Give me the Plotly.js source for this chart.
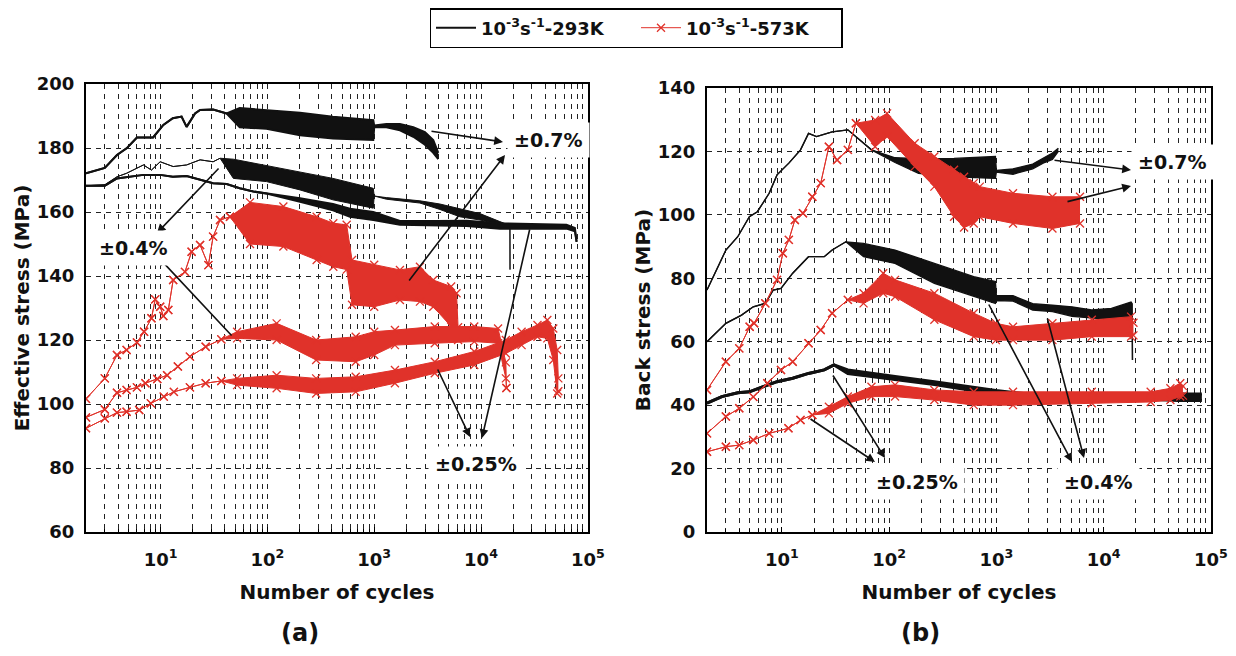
<!DOCTYPE html>
<html>
<head>
<meta charset="utf-8">
<script src="https://cdn.plot.ly/plotly-3.0.1.min.js"></script>
<style>html,body{margin:0;padding:0;background:#fff;}#chart{width:1236px;height:656px;}</style>
</head>
<body>
<div id="chart"></div>
<script>
// ---------------- DATA ----------------
// Legend labels
const legendNames = ['10<sup>-3</sup>s<sup>-1</sup>-293K', '10<sup>-3</sup>s<sup>-1</sup>-573K'];
const xTickVals = [10, 100, 1000, 10000, 100000];
const xTickText = ['10<sup>1</sup>', '10<sup>2</sup>', '10<sup>3</sup>', '10<sup>4</sup>', '10<sup>5</sup>'];
const strainLabels = ['±0.7%', '±0.4%', '±0.25%'];

// (a) Effective stress, 293 K, ±0.7%  (hi/lo = envelope of the oscillating band)
const effN_293_07  = [2, 3, 3.9, 4.8, 6, 8.5, 10.6, 13, 15.7, 17.5, 21, 23.4, 31, 41.5, 55, 98, 202, 411, 980, 1000, 1300, 1741, 2323, 2985, 3572, 3980];
const effHi_293_07 = [172.1, 173.8, 177.8, 179.9, 183.3, 183.3, 187.2, 189.3, 189.8, 186.6, 190.8, 191.9, 192, 190.8, 192.5, 191.9, 191, 189.8, 188.7, 187, 187.5, 187.5, 186.5, 185, 182.5, 178.5];
const effLo_293_07 = [172.1, 173.8, 177.8, 179.9, 183.3, 183.3, 187.2, 189.3, 189.8, 186.6, 190.8, 191.9, 192, 190.8, 186.5, 186, 184, 183, 182.5, 186.5, 186.5, 185.5, 183.5, 181, 178.5, 176.5];
// (a) Effective stress, 293 K, ±0.4%
const effN_293_04  = [2, 3, 3.9, 4.8, 6.9, 8.2, 9.9, 13.1, 17.5, 23.4, 31, 36, 48, 98, 202, 411, 980, 1000, 1300, 2679, 4120, 6350, 9780, 15030, 18660, 18700];
const effHi_293_04 = [168.2, 168.5, 171, 172.1, 174.7, 173.1, 175.7, 174.2, 174.7, 176.3, 175.7, 176.8, 176.5, 174.5, 172.6, 170.5, 167.4, 165, 164.5, 163.5, 162.5, 161, 159.5, 157, 155.8, 142];
const effLo_293_04 = [168.2, 168.5, 171, 172.1, 174.7, 173.1, 175.7, 174.2, 174.7, 176.3, 175.7, 176.8, 170.5, 169.5, 166.9, 163.8, 161.2, 165, 164, 162.8, 160.8, 158.5, 157.5, 156, 155.4, 142];
// (a) Effective stress, 293 K, ±0.25%
const effN_293_025  = [2, 3, 3.9, 6.9, 9.9, 13, 17.5, 23.4, 31, 41.5, 55, 73.8, 98, 202, 411, 593, 980, 1741, 3572, 7330, 15030, 30800, 63100, 75700, 78600];
const effHi_293_025 = [168.2, 168.2, 170.5, 171.6, 171.6, 171, 171.25, 170, 169, 168.75, 167.4, 166.4, 165.8, 164.3, 162.5, 161, 160, 157.2, 157.2, 157.3, 156.5, 156.2, 156, 155, 150.7];
const effLo_293_025 = [168.2, 168.2, 170.5, 171.6, 171.6, 171, 171.25, 170, 169, 168.75, 167.4, 166.4, 165.8, 163.2, 160.5, 158.5, 157.5, 156, 155.8, 155.6, 154.8, 154.8, 154.8, 154, 150.7];
// (a) Effective stress, 573 K, ±0.7%
const effN_573_07  = [2, 3, 3.9, 4.8, 6, 7, 8.2, 8.9, 9.9, 10.6, 11.8, 13.1, 16.9, 19.5, 23.4, 28, 31, 36, 44.6, 68.7, 141, 289, 414, 552, 620, 1000, 1741, 2680, 3572, 5250, 5900, 6100];
const effHi_573_07 = [101.6, 108, 115.3, 116.9, 119.2, 122.6, 126.8, 132.7, 130.4, 127.5, 129.4, 138.75, 141.3, 147.6, 149.7, 143.4, 152.3, 157.5, 158.5, 163, 161.7, 158.5, 156.5, 156, 145, 143.5, 141.9, 142.9, 138.75, 136.7, 134.6, 124];
const effLo_573_07 = [101.6, 108, 115.3, 116.9, 119.2, 122.6, 126.8, 132.7, 130.4, 127.5, 129.4, 138.75, 141.3, 147.6, 149.7, 143.4, 152.3, 157.5, 158.5, 150, 149.2, 145, 142.9, 142, 131, 130.4, 132.5, 132, 130.4, 124.2, 121, 120];
// (a) Effective stress, 573 K, ±0.4%
const effN_573_04  = [2, 3, 3.9, 4.8, 6, 7.2, 9.3, 11.5, 14.5, 18.8, 26.4, 37, 52, 122, 286, 671, 1000, 1563, 3690, 8650, 14450, 17100, 17300];
const effHi_573_04 = [95.8, 98.3, 103.5, 104.4, 105.2, 106.5, 107.8, 109, 111.7, 114.8, 117.9, 120.2, 122.6, 125.2, 120, 121, 122.6, 123.1, 124.2, 124.2, 123.6, 113, 105];
const effLo_573_04 = [95.8, 98.3, 103.5, 104.4, 105.2, 106.5, 107.8, 109, 111.7, 114.8, 117.9, 120.2, 120.5, 120, 113.75, 113.2, 115.3, 118.4, 119, 119.5, 119, 108, 105];
// (a) Effective stress, 573 K, ±0.25%
const effN_573_025  = [2, 3, 3.9, 4.8, 6.3, 8.1, 10.7, 13.3, 18.8, 26.4, 37, 52, 122, 286, 671, 1563, 3690, 8650, 17100, 24000, 33800, 41800, 47500, 51700, 53000];
const effHi_573_025 = [92.4, 95.5, 97.3, 97.6, 98.1, 100.2, 102.3, 103.8, 105.2, 106.5, 107.2, 108, 109, 108, 108.5, 110.6, 113.2, 116.4, 120, 122.6, 124.7, 126.25, 123.6, 116.9, 108];
const effLo_573_025 = [92.4, 95.5, 97.3, 97.6, 98.1, 100.2, 102.3, 103.8, 105.2, 106.5, 107.2, 105.9, 104.9, 103.3, 103.8, 106.5, 109.6, 112.2, 115.8, 118.4, 121, 120.5, 113.75, 103.3, 104];

// (b) Back stress, 293 K, ±0.7%
const bkN_293_07  = [2, 3, 3.87, 4.97, 5.9, 7.6, 9, 11.6, 14.9, 17.7, 21, 29.4, 41.2, 68.4, 113.5, 188, 403, 980, 1000, 1430, 2183, 2812, 3334, 3785];
const bkHi_293_07 = [76.3, 88.9, 93.1, 99.4, 101, 106.8, 112.6, 116.3, 120.5, 125.7, 124.7, 126.2, 126.8, 120.5, 118, 117.7, 117.8, 118.4, 114, 114.5, 116, 118, 119.5, 121];
const bkLo_293_07 = [76.3, 88.9, 93.1, 99.4, 101, 106.8, 112.6, 116.3, 120.5, 125.7, 124.7, 126.2, 126.8, 120.5, 116.5, 113.1, 112, 111.5, 113.5, 112.8, 114.5, 116.5, 117.5, 120];
// (b) Back stress, 293 K, ±0.4%
const bkN_293_04  = [2, 3, 4.2, 5.4, 7, 8.3, 9.8, 12.6, 17.7, 24.8, 29.4, 39.5, 57.7, 113.5, 264, 615, 980, 1000, 1430, 2183, 3334, 5080, 7760, 11830, 18050, 18500, 18600];
const bkHi_293_04 = [60, 65.8, 68.4, 71, 72.1, 76.3, 76.8, 81.6, 86.8, 86.8, 88.9, 91.5, 91, 88.9, 84.7, 80.5, 79, 74.5, 74.5, 72, 71.5, 71, 70, 70.5, 72.5, 72, 54.2];
const bkLo_293_04 = [60, 65.8, 68.4, 71, 72.1, 76.3, 76.8, 81.6, 86.8, 86.8, 88.9, 91.5, 86.8, 84.7, 78.4, 74.2, 72.1, 73, 72.8, 70, 69.5, 68, 67.5, 67, 67.5, 67, 54.2];
// (b) Back stress, 293 K, ±0.25%
const bkN_293_025  = [2, 2.75, 3.87, 4.97, 6.4, 9, 12.6, 17.7, 24.8, 30.6, 41.2, 68.4, 113.5, 264, 615, 990, 2000, 5000, 10000, 20000, 49800, 82600];
const bkHi_293_025 = [40.6, 42.7, 43.9, 44.2, 45.6, 47.4, 48.5, 50, 51.1, 52.7, 51.1, 50, 49, 47.4, 45.6, 44.6, 43.5, 43, 43, 43, 43.5, 43.5];
const bkLo_293_025 = [40.6, 42.7, 43.9, 44.2, 45.6, 47.4, 48.5, 50, 51.1, 52.7, 50, 49, 48, 46.5, 44.5, 43.5, 42.5, 42, 42, 42, 41.5, 41.5];
// (b) Back stress, 573 K, ±0.7%
const bkN_573_07  = [2, 3, 4, 5, 5.5, 7, 9, 10.2, 11.6, 13.2, 15.7, 19.2, 23, 27.4, 32.7, 41.2, 49, 74, 95.7, 173, 264, 403, 500, 615, 700, 1430, 3334, 6030];
const bkHi_573_07 = [44.8, 53.7, 57.9, 64.7, 65.8, 72.1, 79.5, 87.9, 92.1, 98.4, 100.5, 105.7, 110, 121.5, 117.3, 120.5, 128.9, 129.9, 132, 122.6, 118.4, 114.2, 112, 110, 108.9, 106.8, 105.7, 105.7];
const bkLo_573_07 = [44.8, 53.7, 57.9, 64.7, 65.8, 72.1, 79.5, 87.9, 92.1, 98.4, 100.5, 105.7, 110, 121.5, 117.3, 120.5, 128.9, 121.5, 124.7, 115.2, 108.9, 99.4, 96, 97.3, 99.4, 97.3, 95.7, 97.3];
// (b) Back stress, 573 K, ±0.4%
const bkN_573_04  = [2, 3, 4, 5.4, 7.3, 9.8, 12.6, 17.7, 23, 29.4, 41.2, 57.7, 88, 113.5, 264, 615, 990, 1430, 3334, 7760, 18050, 19000];
const bkHi_573_04 = [31.1, 36.4, 39, 42.6, 46.9, 51.1, 53.7, 59.5, 63.7, 69, 73.2, 75.3, 81.6, 79.5, 75.3, 69, 65.8, 64.7, 65.8, 66.9, 67.9, 66];
const bkLo_573_04 = [31.1, 36.4, 39, 42.6, 46.9, 51.1, 53.7, 59.5, 63.7, 69, 73.2, 72.1, 75.3, 74.2, 66.9, 61.6, 60.5, 60.5, 60.5, 61.6, 61.6, 62];
// (b) Back stress, 573 K, ±0.25%
const bkN_573_025  = [2, 3, 4, 5.4, 7.6, 11.5, 14.9, 19.2, 27.4, 41.2, 68.4, 113.5, 264, 615, 1430, 7760, 27500, 42000, 51900, 55000];
const bkHi_573_025 = [25.3, 26.9, 27.4, 29, 31.1, 32.7, 35.3, 36.9, 39.5, 42.7, 45.8, 46.4, 44.8, 44.2, 44.2, 44.2, 44.2, 45.3, 46.9, 46];
const bkLo_573_025 = [25.3, 26.9, 27.4, 29, 31.1, 32.7, 35.3, 36.9, 37.4, 40.6, 42.7, 42.7, 41.6, 40, 40, 40.6, 41, 41.6, 42.7, 43];

// ---------------- STYLE ----------------
const BLACK = '#111111';
const RED = '#e0322a';
const FONT = 'DejaVu Sans, Liberation Sans, Arial, sans-serif';
const W = 1236, H = 656;

function band(N, hi, lo, color, width, withMarkers, xa, ya, legendName) {
  const mode = withMarkers ? 'lines+markers' : 'lines';
  const marker = {symbol: 'x-thin', size: 8, color: color, line: {width: 1.3, color: color}};
  return [
    {x: N, y: hi, xaxis: xa, yaxis: ya, mode: mode, type: 'scatter',
     line: {color: color, width: width}, marker: marker,
     name: legendName || '', showlegend: !!legendName, hoverinfo: 'skip'},
    {x: N, y: lo, xaxis: xa, yaxis: ya, mode: mode, type: 'scatter',
     line: {color: color, width: width}, marker: marker,
     fill: 'tonexty', fillcolor: color, showlegend: false, hoverinfo: 'skip'}
  ];
}

const traces = [].concat(
  band(effN_293_07, effHi_293_07, effLo_293_07, BLACK, 2, false, 'x', 'y', legendNames[0]),
  band(effN_293_04, effHi_293_04, effLo_293_04, BLACK, 1, false, 'x', 'y'),
  band(effN_293_025, effHi_293_025, effLo_293_025, BLACK, 2, false, 'x', 'y'),
  band(bkN_293_07, bkHi_293_07, bkLo_293_07, BLACK, 1.3, false, 'x2', 'y2'),
  band(bkN_293_04, bkHi_293_04, bkLo_293_04, BLACK, 1.3, false, 'x2', 'y2'),
  band(bkN_293_025, bkHi_293_025, bkLo_293_025, BLACK, 3, false, 'x2', 'y2'),
  band(effN_573_07, effHi_573_07, effLo_573_07, RED, 1, true, 'x', 'y', legendNames[1]),
  band(effN_573_04, effHi_573_04, effLo_573_04, RED, 1, true, 'x', 'y'),
  band(effN_573_025, effHi_573_025, effLo_573_025, RED, 1, true, 'x', 'y'),
  band(bkN_573_07, bkHi_573_07, bkLo_573_07, RED, 1, true, 'x2', 'y2'),
  band(bkN_573_04, bkHi_573_04, bkLo_573_04, RED, 1, true, 'x2', 'y2'),
  band(bkN_573_025, bkHi_573_025, bkLo_573_025, RED, 1, true, 'x2', 'y2')
);

const gridStyle = {gridcolor: '#222', griddash: '5px,5px', gridwidth: 1};
function xAxis(domain, anchor) {
  return Object.assign({
    type: 'log', domain: domain, anchor: anchor, range: [Math.log10(2), 5.002],
    tickvals: xTickVals, ticktext: xTickText, showgrid: true,
    ticks: 'inside', ticklen: 5, tickcolor: '#000', ticklabelstandoff: 10,
    minor: Object.assign({dtick: 'D1', showgrid: true, ticks: 'inside', ticklen: 3, tickcolor: '#000'}, gridStyle),
    showline: true, mirror: true, linecolor: '#000', linewidth: 2, zeroline: false,
    tickfont: {family: FONT, size: 18, weight: 'bold', color: '#111'},
    title: {text: 'Number of cycles', font: {family: FONT, size: 20, weight: 'bold', color: '#111'}, standoff: 16}
  }, gridStyle);
}
function yAxis(domain, anchor, range, title) {
  return Object.assign({
    domain: domain, anchor: anchor, range: range, dtick: 20, showgrid: true,
    showline: true, mirror: true, linecolor: '#000', linewidth: 2, zeroline: false,
    ticks: '', ticklabelstandoff: 6,
    tickfont: {family: FONT, size: 18, weight: 'bold', color: '#111'},
    title: {text: title, font: {family: FONT, size: 20, weight: 'bold', color: '#111'}, standoff: 2}
  }, gridStyle);
}

function arrow(hx, hy, tx, ty) {
  return {xref: 'paper', yref: 'paper', x: hx / W, y: 1 - hy / H, ax: tx - hx, ay: ty - hy,
          axref: 'pixel', ayref: 'pixel', text: '', showarrow: true,
          arrowhead: 2, arrowsize: 1.1, arrowwidth: 1.6, arrowcolor: '#111', standoff: 0, startstandoff: 0};
}
function label(text, cx, cy, size) {
  return {xref: 'paper', yref: 'paper', x: cx / W, y: 1 - cy / H, xanchor: 'center', yanchor: 'middle',
          text: text, showarrow: false, bgcolor: '#fff', borderpad: 6,
          font: {family: FONT, size: size || 19, weight: 'bold', color: '#111'}};
}

const annotations = [
  arrow(503, 142, 430, 131), arrow(505, 155, 408, 282),
  arrow(157, 233, 220, 167), arrow(158, 257, 233, 337),
  arrow(470, 437, 437, 368), arrow(482, 438, 530, 228),
  arrow(1131, 170, 1053, 160), arrow(1131, 186, 1066, 202),
  arrow(875, 462, 809, 418), arrow(885, 458, 832, 374),
  arrow(1072, 462, 988, 303), arrow(1084, 458, 1047, 317),
  label(strainLabels[0], 548, 140), label(strainLabels[1], 133, 248), label(strainLabels[2], 476, 464),
  label(strainLabels[0], 1172, 162), label(strainLabels[2], 917, 482), label(strainLabels[1], 1098, 482),
  {xref: 'paper', yref: 'paper', x: 300 / W, y: 1 - 633 / H, xanchor: 'center', yanchor: 'middle', text: '(a)', showarrow: false,
   font: {family: FONT, size: 24, weight: 'bold', color: '#111'}},
  {xref: 'paper', yref: 'paper', x: 920 / W, y: 1 - 633 / H, xanchor: 'center', yanchor: 'middle', text: '(b)', showarrow: false,
   font: {family: FONT, size: 24, weight: 'bold', color: '#111'}}
];

const layout = {
  width: W, height: H,
  margin: {l: 0, r: 0, t: 0, b: 0, autoexpand: false},
  paper_bgcolor: '#fff', plot_bgcolor: '#fff',
  xaxis: xAxis([86 / W, 588 / W], 'y'),
  yaxis: yAxis([1 - 532 / H, 1 - 84 / H], 'x', [60, 200], 'Effective stress (MPa)'),
  xaxis2: xAxis([707 / W, 1211 / W], 'y2'),
  yaxis2: yAxis([1 - 532 / H, 1 - 88 / H], 'x2', [0, 140], 'Back stress (MPa)'),
  showlegend: true,
  legend: {orientation: 'h', traceorder: 'normal', x: 636 / W, xanchor: 'center', y: 1 - 8 / H, yanchor: 'top',
           bordercolor: '#000', borderwidth: 1.5, bgcolor: '#fff', itemwidth: 40, entrywidth: 150,
           font: {family: FONT, size: 18, weight: 'bold', color: '#111'}},
  annotations: annotations
};

Plotly.newPlot('chart', traces, layout, {displayModeBar: false, staticPlot: true});
</script>
</body>
</html>
